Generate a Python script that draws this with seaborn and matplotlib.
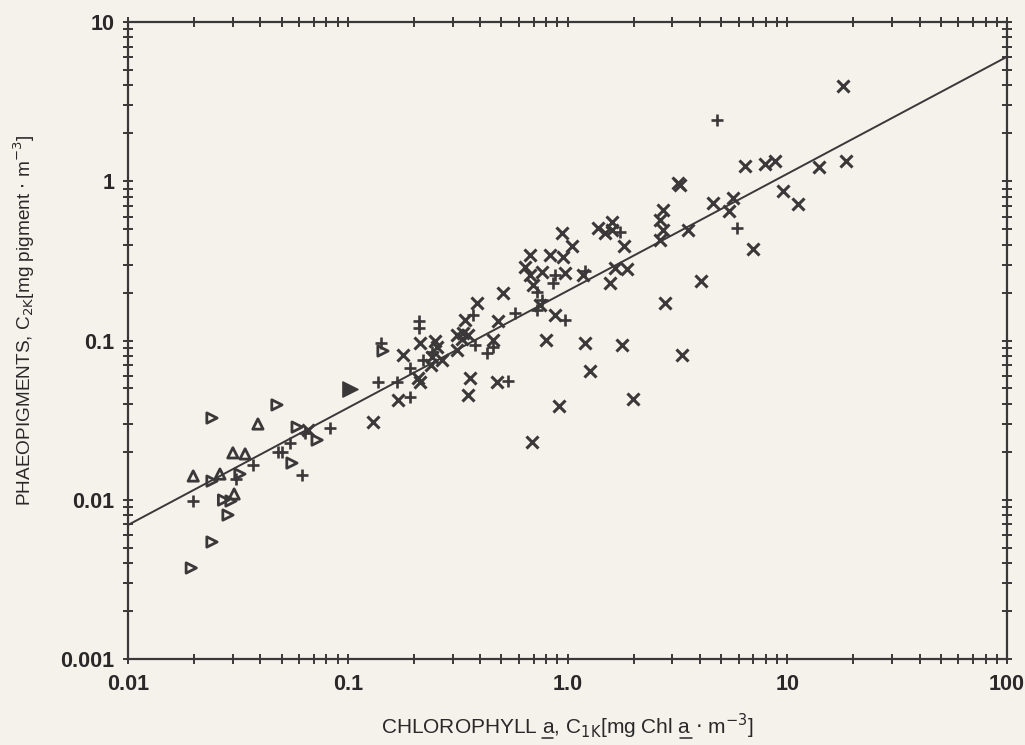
import matplotlib
matplotlib.use("Agg")
import matplotlib.pyplot as plt
import seaborn as sns
import numpy as np
import pandas as pd
from matplotlib.lines import Line2D
from matplotlib.ticker import LogLocator, FixedLocator, FixedFormatter, NullFormatter

# ---------------- data ----------------
chl_x = [0.0659, 0.130, 0.169, 0.209, 0.213, 0.213, 0.250, 0.255, 0.178, 0.242,
         0.269, 0.239, 0.388, 0.509, 0.342, 0.483, 0.314, 0.335, 0.353, 0.331,
         0.458, 0.314, 0.360, 0.478, 0.353, 0.675, 0.833, 0.954, 0.641, 0.766,
         0.675, 0.974, 0.697, 0.750, 0.877, 0.799, 1.176, 1.645, 1.866, 1.561,
         1.201, 1.770, 1.266, 1.987, 0.915, 0.689, 2.778, 3.319, 4.051, 0.944,
         1.048, 1.377, 1.594, 1.594, 1.481, 1.807, 2.720, 2.636, 2.720, 2.636,
         3.534, 3.182, 3.250, 4.593, 5.664, 5.432, 6.985, 6.424, 7.922, 8.795,
         9.56, 11.19, 13.95, 18.51, 17.94]
pha_x = [0.0274, 0.0308, 0.0423, 0.0581, 0.0549, 0.0965, 0.0993, 0.0910, 0.0811, 0.0788,
         0.0754, 0.0702, 0.172, 0.199, 0.1345, 0.1326, 0.1083, 0.1115, 0.1083, 0.1022,
         0.1007, 0.0872, 0.0581, 0.0549, 0.0455, 0.344, 0.344, 0.334, 0.289, 0.269,
         0.258, 0.265, 0.223, 0.167, 0.145, 0.1007, 0.258, 0.285, 0.281, 0.230,
         0.0965, 0.0937, 0.0643, 0.0429, 0.0388, 0.0230, 0.172, 0.0811, 0.236, 0.473,
         0.392, 0.509, 0.555, 0.494, 0.473, 0.392, 0.660, 0.571, 0.494, 0.428,
         0.494, 0.975, 0.950, 0.730, 0.785, 0.650, 0.376, 1.247, 1.283, 1.340,
         0.869, 0.720, 1.229, 1.340, 3.964]

chl_plus = [0.0482, 0.0502, 0.0546, 0.0619, 0.0371, 0.0310, 0.0198, 0.0639, 0.0830, 0.1417,
            0.1373, 0.1675, 0.1920, 0.1920, 0.2200, 0.2417, 0.2110, 0.2110, 0.3715, 0.4581,
            0.3795, 0.4303, 0.5362, 0.5772, 0.877, 0.859, 0.7265, 0.7656, 0.7265, 0.974,
            1.201, 1.734, 5.906, 4.789]
pha_plus = [0.0200, 0.0200, 0.0227, 0.0143, 0.0165, 0.0135, 0.00982, 0.0262, 0.0282, 0.0965,
            0.0549, 0.0549, 0.0442, 0.0672, 0.0754, 0.0847, 0.1326, 0.1199, 0.1446, 0.0910,
            0.0937, 0.0835, 0.0557, 0.1488, 0.2578, 0.2297, 0.2017, 0.1796, 0.1554, 0.1345,
            0.2732, 0.480, 0.5086, 2.424]

chl_tri_r = [0.0241, 0.0476, 0.0588, 0.0725, 0.0557, 0.0323, 0.0241, 0.0272, 0.0294,
             0.0285, 0.0241, 0.0194, 0.1446]
pha_tri_r = [0.0326, 0.0394, 0.0286, 0.0237, 0.0170, 0.0145, 0.0131, 0.00996, 0.00982,
             0.00802, 0.00543, 0.00373, 0.0859]

chl_tri_up = [0.0300, 0.0341, 0.0390, 0.0198, 0.0262, 0.0304]
pha_tri_up = [0.0197, 0.0194, 0.0299, 0.0141, 0.0145, 0.01087]

chl_filled = [0.1024]
pha_filled = [0.0496]

fit_coef = 0.205      # C2K at C1K = 1
fit_exp = 0.735       # log-log slope
fit_range = [0.01, 100]

x_ticks = [0.01, 0.1, 1.0, 10, 100]
x_ticklabels = ["0.01", "0.1", "1.0", "10", "100"]
y_ticks = [0.001, 0.01, 0.1, 1, 10]
y_ticklabels = ["0.001", "0.01", "0.1", "1", "10"]

# ---------------- style ----------------
sns.set_style("ticks")
plt.rcParams["font.family"] = ["Liberation Sans", "DejaVu Sans"]
ink = "#3a3838"
paper = "#f4f2eb"

fig = plt.figure(figsize=(10.25, 7.45), dpi=100, facecolor=paper)
ax = fig.add_axes([0.1249, 0.1154, 0.8576, 0.8551])
ax.set_facecolor(paper)

ax.set_xscale("log")
ax.set_yscale("log")
ax.set_xlim(0.01, 100)
ax.set_ylim(0.001, 10)

# fit line
xf = np.logspace(np.log10(fit_range[0]), np.log10(fit_range[1]), 50)
fit_df = pd.DataFrame({"x": xf, "y": fit_coef * xf ** fit_exp})
sns.lineplot(data=fit_df, x="x", y="y", color=ink, lw=1.4, ax=ax)

# points
sns.scatterplot(x=chl_x, y=pha_x, marker="x", s=75, color=ink, linewidth=2.2, ax=ax, zorder=3)
sns.scatterplot(x=chl_plus, y=pha_plus, marker="+", s=75, color=ink, linewidth=1.9, ax=ax, zorder=3)
sns.scatterplot(x=chl_tri_r, y=pha_tri_r, marker=">", s=55, facecolor="none",
                edgecolor=ink, linewidth=2.0, ax=ax, zorder=3)
sns.scatterplot(x=chl_tri_up, y=pha_tri_up, marker="^", s=55, facecolor="none",
                edgecolor=ink, linewidth=2.0, ax=ax, zorder=3)
sns.scatterplot(x=chl_filled, y=pha_filled, marker=">", s=120, color=ink,
                edgecolor=ink, linewidth=1.0, ax=ax, zorder=3)

# spines and ticks
for sp in ax.spines.values():
    sp.set_visible(True)
    sp.set_linewidth(1.6)
    sp.set_color(ink)

for axis in (ax.xaxis, ax.yaxis):
    axis.set_major_locator(FixedLocator(x_ticks if axis is ax.xaxis else y_ticks))
    axis.set_major_formatter(FixedFormatter(x_ticklabels if axis is ax.xaxis else y_ticklabels))
    axis.set_minor_locator(LogLocator(base=10, subs=np.arange(2, 10), numticks=20))
    axis.set_minor_formatter(NullFormatter())

ax.tick_params(which="both", direction="inout", top=True, right=True,
               length=7.5, width=1.4, color=ink)
ax.tick_params(which="major", labelsize=15.5, labelcolor="#2a2828")
ax.tick_params(axis="x", which="major", pad=7)
ax.tick_params(axis="y", which="major", pad=6)
for lab in ax.get_xticklabels() + ax.get_yticklabels():
    lab.set_fontweight("bold")

xlab_pre1 = "CHLOROPHYLL a"
xlab_pre2 = r"CHLOROPHYLL a, C$_{\mathrm{1K}}$[mg Chl a"
xlab_full = xlab_pre2 + r" $\cdot$ m$^{-3}$]"
ax.set_xlabel(xlab_full, fontsize=15, color="#2a2828", labelpad=12)
ax.set_ylabel(r"PHAEOPIGMENTS, C$_{\mathrm{2K}}$[mg pigment $\cdot$ m$^{-3}$]",
              fontsize=13.7, color="#2a2828")
ax.yaxis.set_label_coords(-0.104, 0.532)

# underline the two "a" of the x label
fig.canvas.draw()
rend = fig.canvas.get_renderer()
lab = ax.xaxis.label
bb = lab.get_window_extent(rend)


def text_width(s):
    t = fig.text(0, 0, s, fontproperties=lab.get_fontproperties())
    w = t.get_window_extent(rend).width
    t.remove()
    return w


wa = text_width("a")
W, H = fig.bbox.width, fig.bbox.height
for pre in (xlab_pre1, xlab_pre2):
    right = bb.x0 + text_width(pre)
    left = right - wa
    yy = bb.y0 + 2.5
    fig.add_artist(Line2D([left / W, right / W], [yy / H, yy / H],
                          transform=fig.transFigure, color="#2a2828", lw=1.1))

fig.savefig("out.png", dpi=100, facecolor=paper)
